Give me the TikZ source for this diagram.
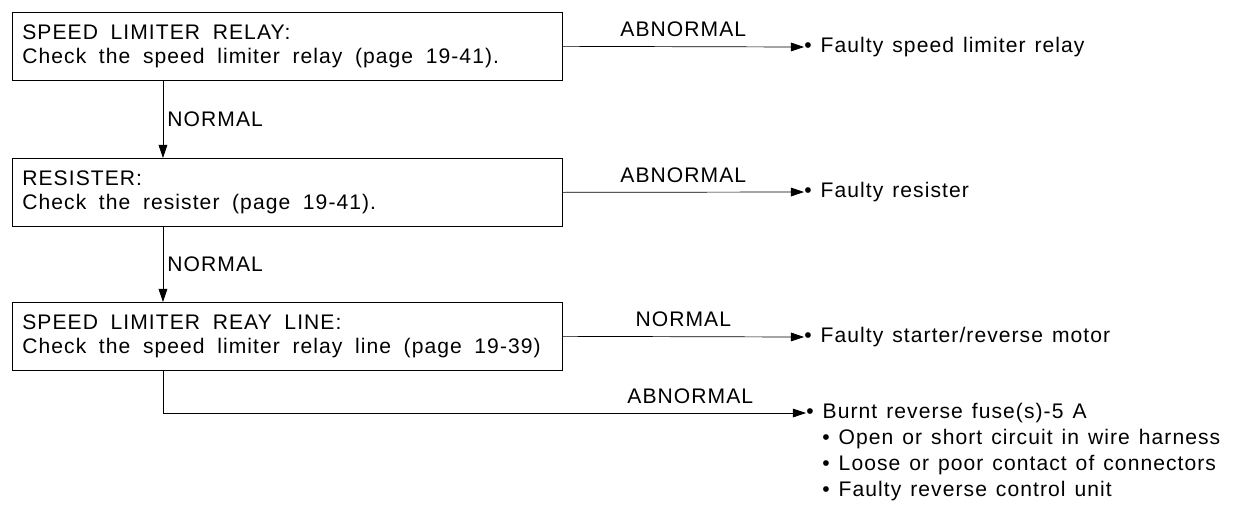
\documentclass[tikz,border=0pt]{standalone}
\usepackage{fontspec}
\setmainfont{Liberation Sans}[LetterSpace=5,WordSpace=1.3]
\usetikzlibrary{arrows.meta}

\begin{document}
\begin{tikzpicture}[x=0.02cm,y=-0.02cm,font=\fontsize{12}{14}\selectfont]

	\tikzstyle{check}=[draw,rectangle,anchor=north west,align=left,text width=10.6cm,inner xsep=0.2cm,inner ysep=0.15cm,minimum width=11cm,minimum height=1.36cm,execute at begin node={\spaceskip=0.6em\relax}]
	\tikzstyle{result}=[anchor=west,inner sep=0pt]
	\tikzstyle{flow}=[-{Triangle[length=7.5pt,width=5pt]},thin]

	\useasboundingbox (0,0) rectangle (1233,515);

	\node[check] (relay) at (12,12) {SPEED LIMITER RELAY:\\Check the speed limiter relay (page 19-41).};
	\node[check] (resister) at (12,158) {RESISTER:\\Check the resister (page 19-41).};
	\node[check] (line) at (12,302) {SPEED LIMITER REAY LINE:\\Check the speed limiter relay line (page 19-39)};

	\node[result] (badrelay) at (804,47) {\textbullet\ Faulty speed limiter relay};
	\node[result] (badres) at (804,192) {\textbullet\ Faulty resister};
	\node[result] (motor) at (804,337) {\textbullet\ Faulty starter/reverse motor};

	\node[result] (fuse) at (806,413) {\textbullet\ Burnt reverse fuse(s)-5 A};
	\node[result] (harness) at (822,439) {\textbullet\ Open or short circuit in wire harness};
	\node[result] (contact) at (822,465) {\textbullet\ Loose or poor contact of connectors};
	\node[result] (unit) at (822,491) {\textbullet\ Faulty reverse control unit};

	\draw[flow] ([xshift=3.02cm]relay.south west) -- ([xshift=3.02cm]resister.north west) node[midway,right=-1pt] {NORMAL};
	\draw[flow] ([xshift=3.02cm]resister.south west) -- ([xshift=3.02cm]line.north west) node[midway,right=-1pt] {NORMAL};

	\draw[flow] (relay.east) -- (badrelay.west) node[midway,above=2pt] {ABNORMAL};
	\draw[flow] (resister.east) -- (badres.west) node[midway,above=2pt] {ABNORMAL};
	\draw[flow] (line.east) -- (motor.west) node[midway,above=2pt] {NORMAL};
	\draw[flow] ([xshift=3.02cm]line.south west) |- (fuse.west) node[pos=0.91,above=2pt] {ABNORMAL};

\end{tikzpicture}
\end{document}
